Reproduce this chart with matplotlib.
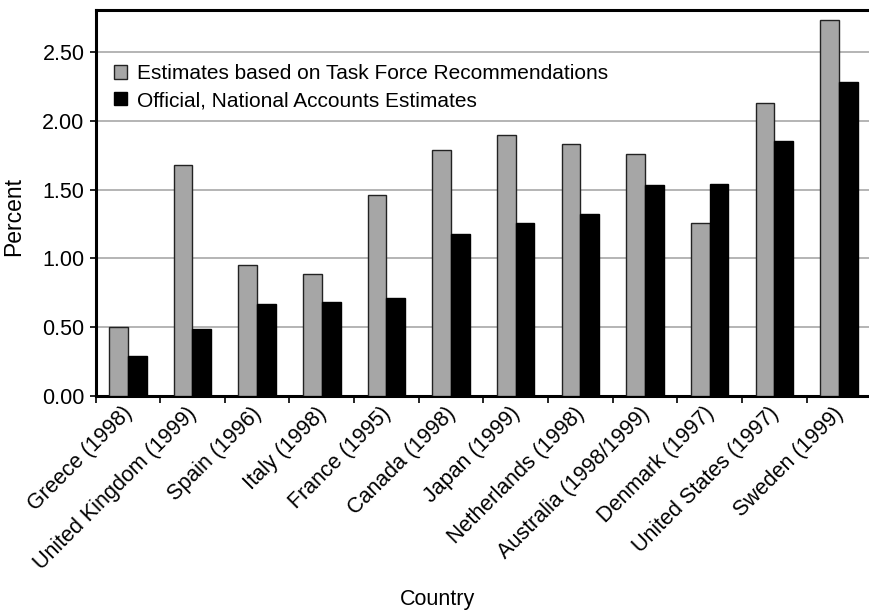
import matplotlib
matplotlib.use("Agg")
import matplotlib.pyplot as plt
import numpy as np

countries = ["Greece (1998)", "United Kingdom (1999)", "Spain (1996)", "Italy (1998)",
             "France (1995)", "Canada (1998)", "Japan (1999)", "Netherlands (1998)",
             "Australia (1998/1999)", "Denmark (1997)", "United States (1997)", "Sweden (1999)"]
task_force = [0.50, 1.68, 0.95, 0.89, 1.46, 1.79, 1.90, 1.83, 1.76, 1.26, 2.13, 2.73]
official = [0.29, 0.49, 0.67, 0.68, 0.71, 1.18, 1.26, 1.32, 1.53, 1.54, 1.85, 2.28]
yticks = [0.0, 0.5, 1.0, 1.5, 2.0, 2.5]
ytick_labels = ["0.00", "0.50", "1.00", "1.50", "2.00", "2.50"]

plt.rcParams['font.family'] = ['Liberation Sans', 'DejaVu Sans']
FS = 15

W, H = 869, 612
fig = plt.figure(figsize=(W / 100, H / 100), dpi=100)
left, right, top, bottom = 95.5, 871.3, 10, 396
ax = fig.add_axes([left / W, 1 - bottom / H, (right - left) / W, (bottom - top) / H])

x = np.arange(len(countries))
bw = 0.29
ax.bar(x - bw / 2, task_force, bw, color='#a6a6a6', edgecolor='#222222', linewidth=1.0,
       label='Estimates based on Task Force Recommendations', zorder=3)
ax.bar(x + bw / 2, official, bw, color='#000000', edgecolor='#000000', linewidth=1.0,
       label='Official, National Accounts Estimates', zorder=3)

ax.set_xlim(-0.5, len(countries) - 0.5)
ax.set_ylim(0, 2.805)
ax.set_yticks(yticks)
ax.set_yticklabels(ytick_labels, fontsize=15.5)
ax.yaxis.grid(True, color='#b4b4b4', linewidth=1.4, zorder=0)
ax.set_axisbelow(True)

ax.set_xticks(np.arange(len(countries) + 1) - 0.5)
ax.set_xticklabels([])
px_per_unit = (right - left) / len(countries)
label_shift = 6 / px_per_unit
ax.set_xticks(x - label_shift, minor=True)
ax.set_xticklabels(countries, minor=True, rotation=45, ha='right', va='top',
                   rotation_mode='anchor', fontsize=15.5)
ax.tick_params(axis='x', which='minor', length=0, pad=5)
ax.tick_params(axis='x', which='major', length=5, width=1.2, direction='out')
ax.tick_params(axis='y', length=4, width=1.2, direction='out', pad=4)

for s in ['top', 'left', 'bottom']:
    ax.spines[s].set_linewidth(2.2)
ax.spines['right'].set_visible(False)

ax.set_ylabel('Percent', fontsize=16.5)
ax.yaxis.set_label_coords((25 - left) / (right - left), (bottom - 217) / (bottom - top))
fig.text(437.5 / W, 1 - 600 / H, 'Country', ha='center', va='center', fontsize=15.5)

leg = ax.legend(loc='upper left', bbox_to_anchor=(0.0, 0.908), frameon=False, fontsize=FS,
                handlelength=0.6, handleheight=0.6, handletextpad=0.5, labelspacing=0.38)

fig.savefig('out.png', dpi=100)
